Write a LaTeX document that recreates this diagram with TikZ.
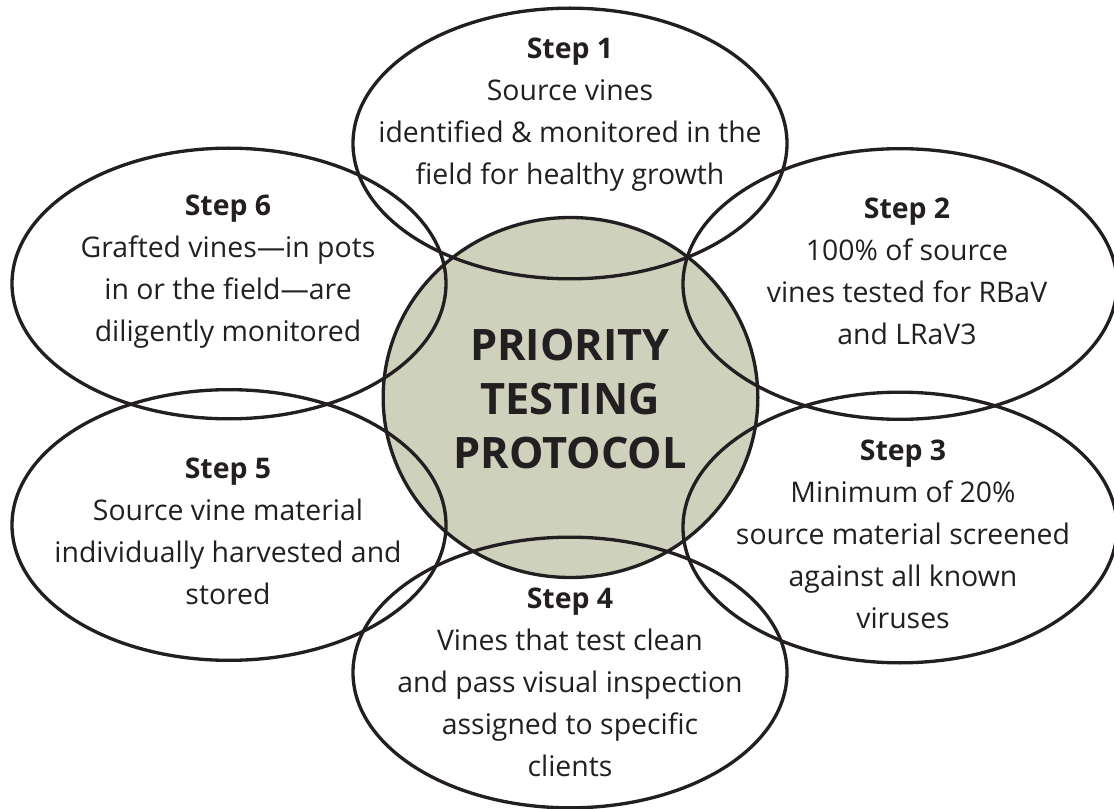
\documentclass[tikz,border=0pt]{standalone}
\usepackage{fontspec}
\setmainfont{Open Sans}
\usetikzlibrary{shapes.geometric}
\definecolor{ink}{RGB}{35,31,32}
\definecolor{olive}{RGB}{206,209,187}
\tikzset{
  petal/.style={ellipse, draw=ink, line width=2.5pt, minimum width=325.5pt, minimum height=203pt, inner sep=0pt},
  steptext/.style={align=center, text=ink, font=\fontsize{21.3}{31.5}\selectfont},
  hubtext/.style={align=center, text=ink, font=\fontsize{32.5}{40.5}\selectfont\bfseries}
}
\begin{document}
\begin{tikzpicture}[x=0.75pt,y=-0.75pt]
\useasboundingbox (0,0) rectangle (1114,809);
% hub
\node[ellipse, fill=olive, minimum width=281pt, minimum height=270pt, inner sep=0pt] (hub) at (570.5,397.5) {};
% petals
\node[petal] (e1) at (570,143.5) {};
\node[petal] (e2) at (900,284) {};
\node[petal] (e3) at (900,527.5) {};
\node[petal] (e4) at (570,672.5) {};
\node[petal] (e5) at (229,525) {};
\node[petal] (e6) at (229,283.5) {};
\node[ellipse, draw=ink, line width=2.5pt, minimum width=281pt, minimum height=270pt, inner sep=0pt] (hubline) at (570.5,397.5) {};
% texts
\node[steptext] (t1) at (570,115) {\textbf{Step 1}\\Source vines\\identified \& monitored in the\\field for healthy growth};
\node[steptext] (t2) at (907,271.5) {\textbf{Step 2}\\100\% of source\\vines tested for RBaV\\and LRaV3};
\node[steptext] (t3) at (903,534) {\textbf{Step 3}\\Minimum of 20\%\\source material screened\\against all known\\viruses};
\node[steptext] (t4) at (570,682) {\textbf{Step 4}\\Vines that test clean\\and pass visual inspection\\assigned to specific\\clients};
\node[steptext] (t5) at (228,531.5) {\textbf{Step 5}\\Source vine material\\individually harvested and\\stored};
\node[steptext] (t6) at (228,271.5) {\textbf{Step 6}\\Grafted vines—in pots\\in or the field—are\\diligently monitored};
\node[hubtext] (th) at (570,399) {PRIORITY\\TESTING\\PROTOCOL};
\end{tikzpicture}
\end{document}
